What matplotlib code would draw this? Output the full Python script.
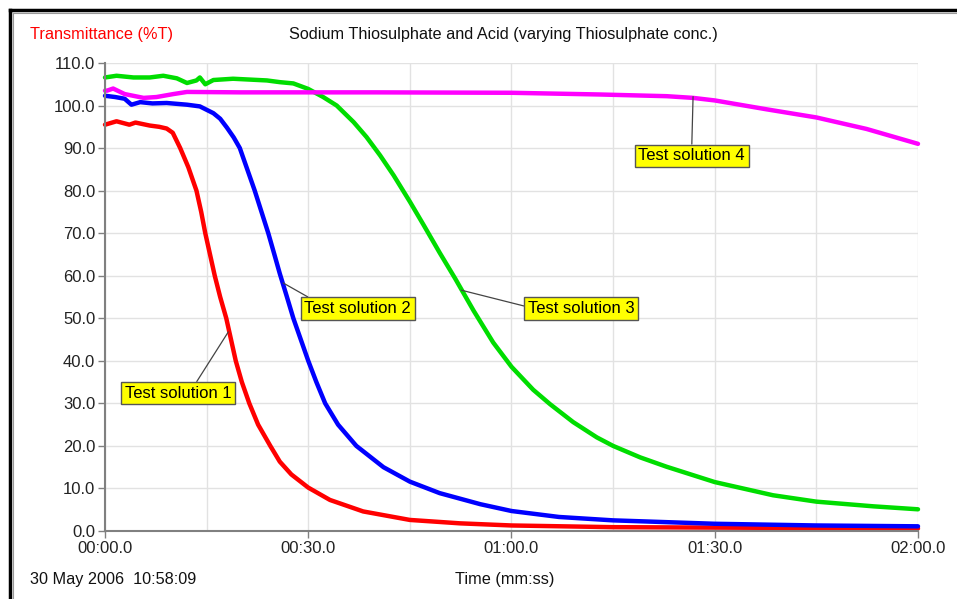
import matplotlib
matplotlib.use("Agg")
import matplotlib.pyplot as plt
from matplotlib.lines import Line2D

plt.rcParams['font.family'] = ['Liberation Sans', 'DejaVu Sans']

# ---------------- data ----------------
t1 = [0, 1.7, 3.6, 4.5, 6.6, 8, 9.1, 10, 11.1, 12.3, 13.5, 14.2, 14.8, 15.5, 16.2, 17.0, 17.9, 18.6,
      19.3, 20.2, 21.3, 22.6, 24.4, 25.8, 27.5, 30, 33.2, 38.1, 45, 52.4, 60, 75, 90, 105, 120]
v1 = [95.5, 96.3, 95.5, 96.0, 95.3, 95.0, 94.6, 93.6, 90.0, 85.5, 80.0, 75.0, 70.0, 65.0, 60.0, 55.0,
      50.0, 45.0, 40.0, 35.0, 30.0, 25.0, 20.0, 16.3, 13.3, 10.2, 7.3, 4.6, 2.6, 1.8, 1.3, 0.9, 0.8,
      0.7, 0.6]

t2 = [0, 1.5, 2.9, 3.9, 5.2, 7, 9.1, 12.1, 14, 15, 16, 17, 18, 19, 19.9, 21, 22.1, 23.1, 24.1, 25,
      25.8, 26.8, 27.8, 28.9, 30, 31.2, 32.5, 34.4, 37.1, 41.1, 45, 49.4, 52.4, 55.4, 60, 67, 75, 90,
      105, 120]
v2 = [102.3, 102.0, 101.6, 100.2, 100.8, 100.5, 100.6, 100.2, 99.8, 99.0, 98.2, 96.9, 94.8, 92.5,
      90.0, 85.0, 80.0, 75.0, 70.0, 65.0, 60.5, 55.3, 50.0, 45.0, 40.0, 35.0, 30.0, 25.0, 20.0, 15.0,
      11.6, 8.9, 7.6, 6.3, 4.7, 3.3, 2.5, 1.7, 1.3, 1.1]

t3 = [0, 1.7, 4.2, 6.6, 8.6, 10.6, 12.1, 13.5, 14, 14.8, 16, 18.9, 23.9, 25.8, 27.8, 30, 32.2, 34.2,
      36.7, 38.6, 40.6, 42.6, 45, 47, 49.4, 51.7, 54.4, 57.3, 60, 63.2, 65.7, 69.1, 72.6, 75, 79, 82.9,
      90, 98.6, 105, 113.4, 120]
v3 = [106.6, 107.0, 106.6, 106.6, 107.0, 106.4, 105.3, 105.9, 106.6, 105.0, 106.0, 106.3, 105.9,
      105.5, 105.2, 103.9, 102.0, 100.0, 96.1, 92.6, 88.3, 83.6, 77.4, 72.0, 65.4, 59.3, 51.8, 44.3,
      38.6, 33.2, 29.8, 25.6, 22.0, 20.0, 17.3, 15.1, 11.5, 8.4, 6.9, 5.8, 5.1]

t4 = [0, 0.3, 1.2, 2.9, 5.7, 7.6, 10.1, 12.1, 20, 40, 60, 73, 82.9, 86.8, 90, 97.7, 105, 112.4, 120]
v4 = [103.5, 103.5, 104.0, 102.7, 101.8, 102.0, 102.7, 103.2, 103.1, 103.1, 103.0, 102.6, 102.2, 101.8,
      101.2, 99.1, 97.2, 94.5, 91.0]

series_labels = ["Test solution 1", "Test solution 2", "Test solution 3", "Test solution 4"]
series_colors = ["#ff0000", "#0000ff", "#00dd00", "#ff00ff"]

x_ticks = [0, 30, 60, 90, 120]
x_tick_labels = ["00:00.0", "00:30.0", "01:00.0", "01:30.0", "02:00.0"]
x_minor = [15, 45, 75, 105]
y_ticks = list(range(0, 111, 10))
y_tick_labels = ["%.1f" % v for v in y_ticks]

title = "Sodium Thiosulphate and Acid (varying Thiosulphate conc.)"
y_title = "Transmittance (%T)"
x_title = "Time (mm:ss)"
stamp = "30 May 2006  10:58:09"

# ---------------- figure ----------------
W, H = 957, 599
FS = 11.7
fig = plt.figure(figsize=(W / 100, H / 100), dpi=100)
fig.patch.set_facecolor("white")

ax = fig.add_axes([105 / W, 1 - 531 / H, (918 - 105) / W, (531 - 63) / H])
ax.set_xlim(0, 120)
ax.set_ylim(0, 110)

ax.set_xticks(x_ticks)
ax.set_xticklabels(x_tick_labels)
ax.set_xticks(x_minor, minor=True)
ax.set_yticks(y_ticks)
ax.set_yticklabels(y_tick_labels)
ax.grid(True, which="both", color="#e2e2e2", linewidth=1.0)
ax.set_axisbelow(True)
ax.tick_params(axis="both", which="major", length=5, width=1.0, color="#808080",
               labelsize=FS + 0.3, labelcolor="#222222", pad=2)
ax.tick_params(axis="x", which="minor", length=0)
for s in ["top", "right"]:
    ax.spines[s].set_visible(False)
for s in ["left", "bottom"]:
    ax.spines[s].set_color("#808080")
    ax.spines[s].set_linewidth(1.5)

for t, v, c in zip([t1, t2, t3, t4], [v1, v2, v3, v4], series_colors):
    ax.plot(t, v, color=c, linewidth=3.2, solid_joinstyle="round", solid_capstyle="round",
            clip_on=False)

box = dict(boxstyle="square,pad=0.22", facecolor="#ffff00", edgecolor="#555555", linewidth=1.0)
ann = [
    # label, curve point (t, v), text centre (t, v), relpos
    (series_labels[0], (18.2, 46.8), (10.8, 32.4), (0.65, 1.0)),
    (series_labels[1], (26.3, 58.3), (37.3, 52.3), (0.1, 1.0)),
    (series_labels[2], (52.6, 56.6), (70.3, 52.3), (0.0, 0.6)),
    (series_labels[3], (86.8, 102.1), (86.6, 88.2), (0.5, 1.0)),
]
for lab, xy, xyt, rp in ann:
    ax.annotate(lab, xy=xy, xytext=xyt, ha="center", va="center", fontsize=FS + 0.3, color="black",
                bbox=box,
                arrowprops=dict(arrowstyle="-", color="#444444", linewidth=0.9,
                                relpos=rp, shrinkA=0, shrinkB=0))

fig.text(30 / W, 1 - 34.5 / H, y_title, color="#ff0000", fontsize=FS, ha="left", va="center")
fig.text(503 / W, 1 - 34.5 / H, title, color="#111111", fontsize=FS, ha="center", va="center")
fig.text(30 / W, 1 - 579.5 / H, stamp, color="#111111", fontsize=FS, ha="left", va="center")
fig.text(505 / W, 1 - 579.5 / H, x_title, color="#111111", fontsize=FS, ha="center", va="center")

# window frame (top / left edges)
fig.add_artist(Line2D([10 / W, 10 / W], [0, 1 - 10 / H], color="black", linewidth=2.5,
                      transform=fig.transFigure))
fig.add_artist(Line2D([10 / W, 1], [1 - 10 / H, 1 - 10 / H], color="black", linewidth=2.5,
                      transform=fig.transFigure))
fig.add_artist(Line2D([13 / W, 13 / W], [0, 1 - 13 / H], color="#999999", linewidth=0.8,
                      transform=fig.transFigure))
fig.add_artist(Line2D([13 / W, 1], [1 - 13 / H, 1 - 13 / H], color="#999999", linewidth=0.8,
                      transform=fig.transFigure))

fig.savefig("out.png", dpi=100, facecolor="white")
